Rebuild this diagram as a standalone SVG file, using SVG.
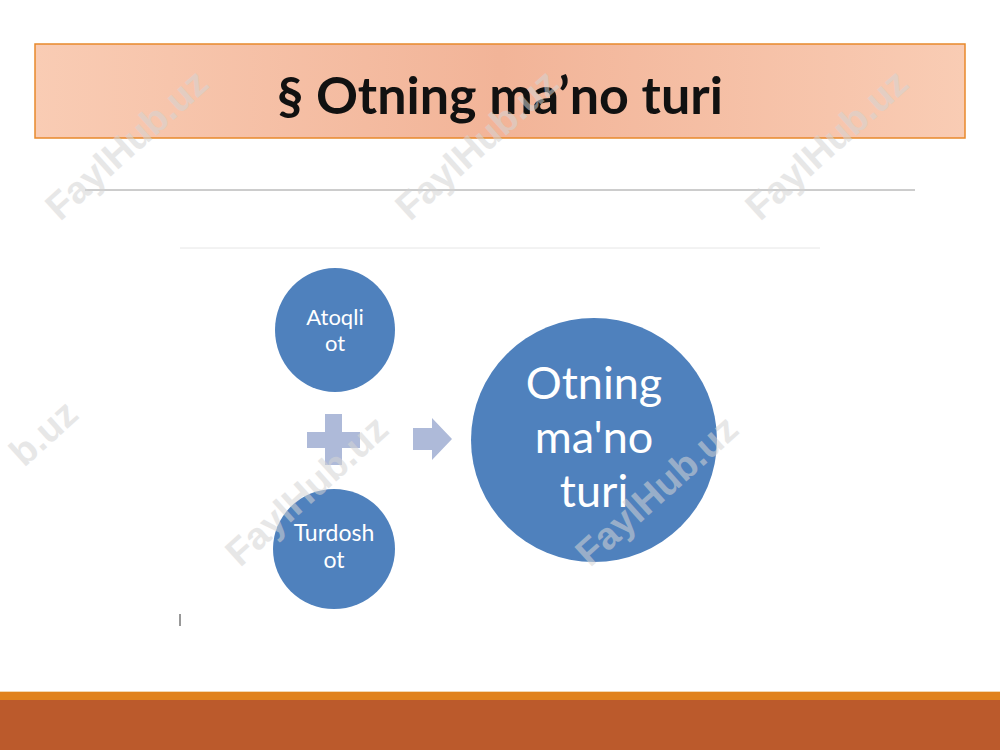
<svg xmlns="http://www.w3.org/2000/svg" width="1000" height="750" viewBox="0 0 1000 750">
<defs>
<linearGradient id="tg" x1="0" y1="0" x2="1" y2="0">
<stop offset="0" stop-color="#f9ccb4"/>
<stop offset="0.5" stop-color="#f2b498"/>
<stop offset="1" stop-color="#f9ccb4"/>
</linearGradient>
<style>
.node{fill:#4f81bd;}
.lbl{font-family:Lato,"Open Sans","Liberation Sans",sans-serif;fill:#ffffff;text-anchor:middle;}
.wm{font-family:"Liberation Sans",Arial,sans-serif;font-weight:bold;font-size:38px;fill:#d4d4d4;opacity:0.55;}
.sym{fill:#aebad9;}
</style>
</defs>
<rect width="1000" height="750" fill="#ffffff"/>
<g id="title">
<rect x="35" y="44" width="930" height="94" fill="url(#tg)" stroke="#e8892b" stroke-width="1.5"/>
<text x="500" y="114" text-anchor="middle" font-family="Lato,'Liberation Sans',sans-serif" font-weight="bold" font-size="52" fill="#111111">§ Otning ma’no turi</text>
</g>
<line x1="85" y1="190" x2="915" y2="190" stroke="#9a9a9a" stroke-width="1"/>
<line x1="180" y1="248" x2="820" y2="248" stroke="#e6e6e6" stroke-width="1"/>
<g id="atoqli">
<ellipse class="node" cx="335" cy="330" rx="60" ry="62"/>
<text class="lbl" x="335" y="325" font-size="22">Atoqli</text>
<text class="lbl" x="335" y="351" font-size="22">ot</text>
</g>
<g id="turdosh">
<ellipse class="node" cx="334" cy="549" rx="61" ry="60"/>
<text class="lbl" x="334" y="541" font-size="23">Turdosh</text>
<text class="lbl" x="334" y="568" font-size="23">ot</text>
</g>
<g id="otning">
<ellipse class="node" cx="594" cy="440" rx="123" ry="122"/>
<text class="lbl" x="594" y="399" font-size="45">Otning</text>
<text class="lbl" x="594" y="453" font-size="45">ma'no</text>
<text class="lbl" x="594" y="507" font-size="45">turi</text>
</g>
<g id="connectors">
<path class="sym" d="M325,414 H342 V432 H360 V448 H342 V465 H325 V448 H307 V432 H325 Z"/>
<path class="sym" d="M413,428 H432 V418 L452,439 L432,460 V450 H413 Z"/>
</g>
<line x1="180" y1="614" x2="180" y2="626" stroke="#333333" stroke-width="1"/>
<g id="footer">
<rect x="0" y="691" width="1000" height="1" fill="#f3d9b0"/>
<rect x="0" y="692" width="1000" height="8" fill="#e0821c"/>
<rect x="0" y="700" width="1000" height="50" fill="#bb5a2c"/>
</g>
<g id="watermarks">
<text class="wm" transform="translate(60,222) rotate(-42)">FaylHub.uz</text>
<text class="wm" transform="translate(410,222) rotate(-42)">FaylHub.uz</text>
<text class="wm" transform="translate(760,222) rotate(-42)">FaylHub.uz</text>
<text class="wm" transform="translate(24,468) rotate(-42)">b.uz</text>
<text class="wm" transform="translate(240,568) rotate(-42)">FaylHub.uz</text>
<text class="wm" transform="translate(590,568) rotate(-42)">FaylHub.uz</text>
</g>
</svg>
